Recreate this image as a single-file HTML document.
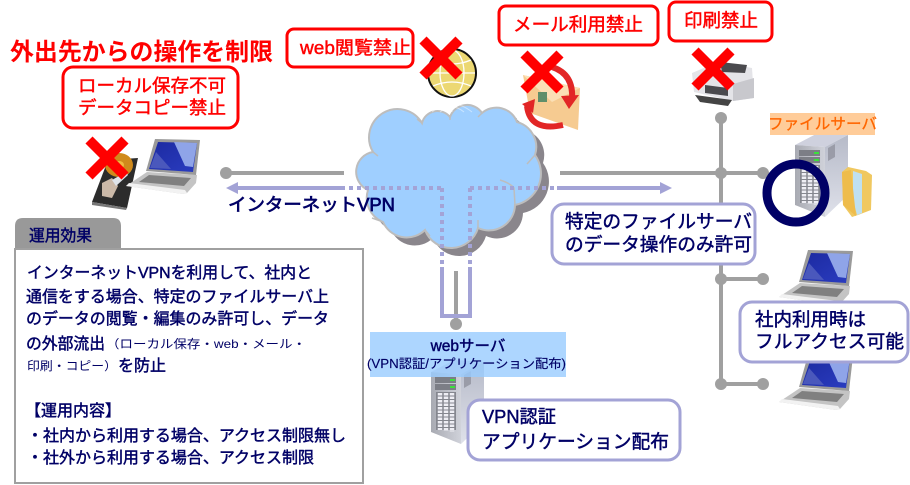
<!DOCTYPE html>
<html lang="ja"><head><meta charset="utf-8"><title>インターネットVPN</title>
<style>
html,body{margin:0;padding:0;background:#fff;width:910px;height:485px;overflow:hidden}
svg{display:block}
text{font-family:"Liberation Sans","Noto Sans CJK JP",sans-serif}
.r{fill:#f00;stroke:#f00;stroke-width:.45}
.n{fill:#006;stroke:#006;stroke-width:.45}
.b{font-weight:bold}
</style></head><body>
<svg width="910" height="485" viewBox="0 0 910 485" xmlns="http://www.w3.org/2000/svg">
<defs>
<linearGradient id="scr" x1="0" y1="0" x2="1" y2="1"><stop offset="0" stop-color="#1c2aa0"/><stop offset="1" stop-color="#2a3cc0"/></linearGradient>
<linearGradient id="side" x1="0" y1="0" x2="0" y2="1"><stop offset="0" stop-color="#b6bac8"/><stop offset="1" stop-color="#dfe1ea"/></linearGradient>
<linearGradient id="front" x1="0" y1="0" x2="1" y2="0"><stop offset="0" stop-color="#a8aab2"/><stop offset="1" stop-color="#d0d2da"/></linearGradient>
<g id="laptop">
<polygon points="1,49 22,35 72,38 71,46 62,56 58,57" fill="#c4c4c4"/>
<polygon points="1,49 58,57 62,56 60,53 4,46" fill="#f2f2f2"/>
<polygon points="14,45 24,38 66,41 59,49" fill="#808080"/>
<polygon points="30,2 75,3 71,38 21,34" fill="#9a9a9a"/>
<polygon points="33,5 72,6 68,35 24,32" fill="url(#scr)"/>
<polygon points="49,5 72,6 68,30 60,29" fill="#8fa4e8"/>
<polygon points="31,15 46,32 25,31" fill="#4a58bc"/>
</g>
<g id="server">
<polygon points="0,12 23,0 53,2 30,14" fill="#cfd1de"/>
<polygon points="30,14 53,2 53,62 30,84" fill="url(#side)"/>
<polygon points="0,12 30,14 30,84 0,72" fill="url(#front)"/>
<polygon points="33,15 40,11 40,24 33,28" fill="#9a9ca8"/>
<rect x="4" y="17" width="21" height="6" fill="#7c7e86"/>
<rect x="4" y="24" width="21" height="6" fill="#7c7e86"/>
<rect x="19" y="19" width="5" height="2" fill="#3ce03c"/>
<rect x="19" y="26" width="5" height="2" fill="#3ce03c"/>
<rect x="5" y="32" width="20" height="38" fill="#85878f"/>
<g stroke="#eeeef4" stroke-width="4.5" stroke-dasharray="2.5 1">
<line x1="9" y1="33" x2="9" y2="70"/><line x1="15" y1="33" x2="15" y2="71"/><line x1="21" y1="33" x2="21" y2="72"/>
</g>
</g>
</defs>

<!-- connectors -->
<g stroke="#a0a0a0" stroke-width="4" fill="none">
<line x1="226" y1="173" x2="344" y2="173"/>
<line x1="560" y1="173" x2="763" y2="173"/>
<line x1="721" y1="118" x2="721" y2="384"/>
<line x1="721" y1="279" x2="763" y2="279"/>
<line x1="721" y1="384" x2="763" y2="384"/>
</g>
<g fill="#a0a0a0">
<circle cx="226" cy="173" r="6"/><circle cx="721" cy="118" r="6"/><circle cx="721" cy="173" r="6"/><circle cx="763" cy="173" r="6"/>
<circle cx="721" cy="279" r="6"/><circle cx="763" cy="279" r="6"/><circle cx="721" cy="384" r="6"/><circle cx="763" cy="384" r="6"/>
<circle cx="456" cy="324" r="6"/>
</g>
<line x1="456" y1="271" x2="456" y2="324" stroke="#a0a0a0" stroke-width="4"/>

<!-- globe -->
<circle cx="452" cy="73" r="24" fill="#ecd873" stroke="#111" stroke-width="2"/>
<g fill="none" stroke="#fff" stroke-width="1.3">
<ellipse cx="452" cy="73" rx="12" ry="23"/><line x1="429" y1="73" x2="475" y2="73"/>
<path d="M433,60Q452,68 471,60M433,86Q452,78 471,86"/>
</g>

<!-- cloud -->
<path transform="translate(8,8)" fill="#8a868c" d="M373,152A28,28 0 0 1 422,123A16,16 0 0 1 450,117A18,18 0 0 1 482,113A22,22 0 0 1 517,122A26,26 0 0 1 535,155A32,32 0 0 1 515,205A26,26 0 0 1 478,228A28,28 0 0 1 425,230A26,26 0 0 1 383,222A26,26 0 0 1 368,190A20,20 0 0 1 373,152Z"/>
<path fill="#9fcfff" stroke="#bdbdbd" stroke-width="2" d="M373,152A28,28 0 0 1 422,123A16,16 0 0 1 450,117A18,18 0 0 1 482,113A22,22 0 0 1 517,122A26,26 0 0 1 535,155A32,32 0 0 1 515,205A26,26 0 0 1 478,228A28,28 0 0 1 425,230A26,26 0 0 1 383,222A26,26 0 0 1 368,190A20,20 0 0 1 373,152Z"/>
<g fill="none" stroke="#bdbdbd" stroke-width="1.5">
<path d="M373,152L378,156M422,123L417,119M450,117L450,120M482,113L478,117M517,122L516,118M535,155L527,164M515,205L514,188Q510,183 500,180M478,228L478,220M425,230L430,236M383,222L372,218"/>
</g>
<g fill="none" stroke="#fff" stroke-width="1" opacity=".45"><path d="M432,112Q452,96 472,112M440,112Q452,102 464,112M452,103V112"/></g>

<!-- VPN pipes -->
<g stroke="#a3a3d6" stroke-width="4" fill="none">
<line x1="236" y1="188" x2="345" y2="188"/>
<line x1="557" y1="188" x2="662" y2="188"/>
<path d="M442,267V316H470V267"/>
<g stroke-dasharray="4 4">
<line x1="349" y1="188" x2="442" y2="188"/>
<line x1="470" y1="188" x2="557" y2="188"/>
<line x1="442" y1="188" x2="442" y2="265"/>
<line x1="470" y1="188" x2="470" y2="265"/>
</g>
</g>
<polygon points="226,188 238,182 238,194" fill="#a3a3d6"/>
<polygon points="672,188 660,182 660,194" fill="#a3a3d6"/>

<text x="228" y="211" font-size="18" class="n" style="stroke-width:.7" textLength="167" lengthAdjust="spacingAndGlyphs">インターネットVPN</text>

<!-- left HDD and laptop -->
<polygon points="92,202 108,160 138,158 127,208" fill="#2c2c2c"/>
<polygon points="92,202 127,208 126,210 92,205" fill="#777"/>
<ellipse cx="119" cy="165" rx="14" ry="12" fill="#d08a1c"/>
<ellipse cx="119" cy="165" rx="5" ry="4" fill="#f0b840"/>
<polygon points="102,183 112,178 118,186 112,198 102,196" fill="#cbb9a8"/>
<polygon points="112,180 126,172 128,175 116,186" fill="#dfe4ea"/>
<use href="#laptop" x="125" y="137"/>

<!-- mail -->
<polygon points="523,75 580,88 578,130 530,113" fill="#f6cb91"/>
<polygon points="523,75 580,88 552,102" fill="#fbe0b6"/>
<rect x="538" y="92" width="9" height="10" fill="#5f8f6a"/>
<path d="M552,67Q574,74 572,100" fill="none" stroke="#e22626" stroke-width="6"/>
<polygon points="561,96 579,95 569,109" fill="#e22626"/>
<path d="M527,106Q530,132 563,125" fill="none" stroke="#e22626" stroke-width="6"/>
<polygon points="522,104 535,99 533,113" fill="#e22626"/>

<!-- printer -->
<polygon points="692,73 718,62 752,68 754,98 733,101 694,92" fill="#e4e4e8"/>
<polygon points="720,62 747,65 745,73 722,72" fill="#4a4a4e"/>
<polygon points="705,85 728,88 728,96 705,93" fill="#4a4a4e"/>
<polygon points="695,95 732,100 728,106 700,102" fill="#444"/>
<polygon points="733,84 754,78 754,98 733,101" fill="#c8c8cd"/>

<!-- servers -->
<use href="#server" x="795" y="133"/>
<rect x="770" y="113" width="105" height="22" fill="#ffcc99"/>
<text x="768" y="129" font-size="15.5" fill="#f60" stroke="#f60" stroke-width=".3" textLength="109" lengthAdjust="spacingAndGlyphs">ファイルサーバ</text>
<polygon points="842,172 848,167 866,171 872,175 871,210 858,215 852,217 843,205" fill="#f0c860"/>
<polygon points="853,171 862,174 862,213 857,215 853,200" fill="#bfe0f0"/>
<polygon points="842,172 851,170 856,216 843,205" fill="#eebc4c"/>
<circle cx="796" cy="193" r="29" fill="none" stroke="#006" stroke-width="9"/>

<use href="#server" x="431" y="360"/>
<rect x="370" y="332" width="196" height="45" fill="#99ccff" opacity=".8"/>
<text x="468" y="351" font-size="15.5" text-anchor="middle" class="n">webサーバ</text>
<text x="367" y="368" font-size="12.5" class="n" style="stroke-width:.15" textLength="199" lengthAdjust="spacingAndGlyphs">(VPN認証/アプリケーション配布)</text>

<use href="#laptop" x="778" y="248"/>
<use href="#laptop" x="778" y="353"/>

<!-- red X marks -->
<g stroke="#f00" stroke-width="10" fill="none">
<path d="M89,140L125,176M125,140L89,176"/>
<path d="M423,40L459,76M459,40L423,76"/>
<path d="M524,54L560,90M560,54L524,90"/>
<path d="M695,51L731,87M731,51L695,87"/>
</g>

<!-- red labels -->
<text x="10" y="60" font-size="24" fill="#f00" class="b" textLength="263" lengthAdjust="spacingAndGlyphs">外出先からの操作を制限</text>
<g fill="#fff" stroke="#f00" stroke-width="3">
<rect x="63" y="67" width="175" height="61" rx="10"/>
<rect x="287" y="29" width="126" height="38" rx="7"/>
<rect x="499" y="6" width="159" height="39" rx="7"/>
<rect x="669" y="2" width="103" height="39" rx="7"/>
</g>
<text x="78" y="92" font-size="18" class="r" textLength="148" lengthAdjust="spacingAndGlyphs">ローカル保存不可</text>
<text x="78" y="114" font-size="18" class="r" textLength="148" lengthAdjust="spacingAndGlyphs">データコピー禁止</text>
<text x="300" y="54" font-size="18" class="r" textLength="111" lengthAdjust="spacingAndGlyphs">web閲覧禁止</text>
<text x="513" y="31" font-size="18.5" class="r" textLength="130" lengthAdjust="spacingAndGlyphs">メール利用禁止</text>
<text x="684" y="27" font-size="18.5" class="r" textLength="74" lengthAdjust="spacingAndGlyphs">印刷禁止</text>

<!-- blue callouts -->
<g fill="#fff" stroke="#a3a3d6" stroke-width="3">
<rect x="552" y="204" width="203" height="60" rx="12"/>
<rect x="740" y="302" width="168" height="60" rx="12"/>
<rect x="468" y="400" width="212" height="60" rx="12"/>
</g>
<text x="565" y="228" font-size="18.7" class="n" textLength="187" lengthAdjust="spacingAndGlyphs">特定のファイルサーバ</text>
<text x="565" y="251" font-size="18.7" class="n" textLength="187" lengthAdjust="spacingAndGlyphs">のデータ操作のみ許可</text>
<text x="755" y="326" font-size="18.5" class="n" textLength="111" lengthAdjust="spacingAndGlyphs">社内利用時は</text>
<text x="755" y="348" font-size="18.5" class="n" textLength="149" lengthAdjust="spacingAndGlyphs">フルアクセス可能</text>
<text x="482" y="423" font-size="18" class="n" textLength="74" lengthAdjust="spacingAndGlyphs">VPN認証</text>
<text x="482" y="448" font-size="18.8" class="n" textLength="187" lengthAdjust="spacingAndGlyphs">アプリケーション配布</text>

<!-- left panel -->
<path d="M15,249V226Q15,218 23,218H113Q121,218 121,226V249Z" fill="#999"/>
<rect x="15" y="249" width="348" height="234" fill="#fff" stroke="#a0a0a0" stroke-width="2"/>
<text x="29" y="241" font-size="16" class="n" textLength="63" lengthAdjust="spacingAndGlyphs">運用効果</text>
<g font-size="16" class="n">
<text x="27" y="278" textLength="285" lengthAdjust="spacingAndGlyphs">インターネットVPNを利用して、社内と</text>
<text x="26" y="302" textLength="303" lengthAdjust="spacingAndGlyphs">通信をする場合、特定のファイルサーバ上</text>
<text x="26" y="324" textLength="303" lengthAdjust="spacingAndGlyphs">のデータの閲覧・編集のみ許可し、データ</text>
<text x="26" y="349" textLength="79" lengthAdjust="spacingAndGlyphs">の外部流出</text>
<text x="118" y="371" textLength="48" lengthAdjust="spacingAndGlyphs">を防止</text>
<text x="25" y="416" textLength="96" lengthAdjust="spacingAndGlyphs">【運用内容】</text>
<text x="27" y="441" textLength="319" lengthAdjust="spacingAndGlyphs">・社内から利用する場合、アクセス制限無し</text>
<text x="27" y="463" textLength="287" lengthAdjust="spacingAndGlyphs">・社外から利用する場合、アクセス制限</text>
</g>
<g font-size="12" fill="#006">
<text x="106" y="348" textLength="200" lengthAdjust="spacingAndGlyphs">（ローカル保存・web・メール・</text>
<text x="27" y="370" textLength="90" lengthAdjust="spacingAndGlyphs">印刷・コピー）</text>
</g>
</svg>
</body></html>
